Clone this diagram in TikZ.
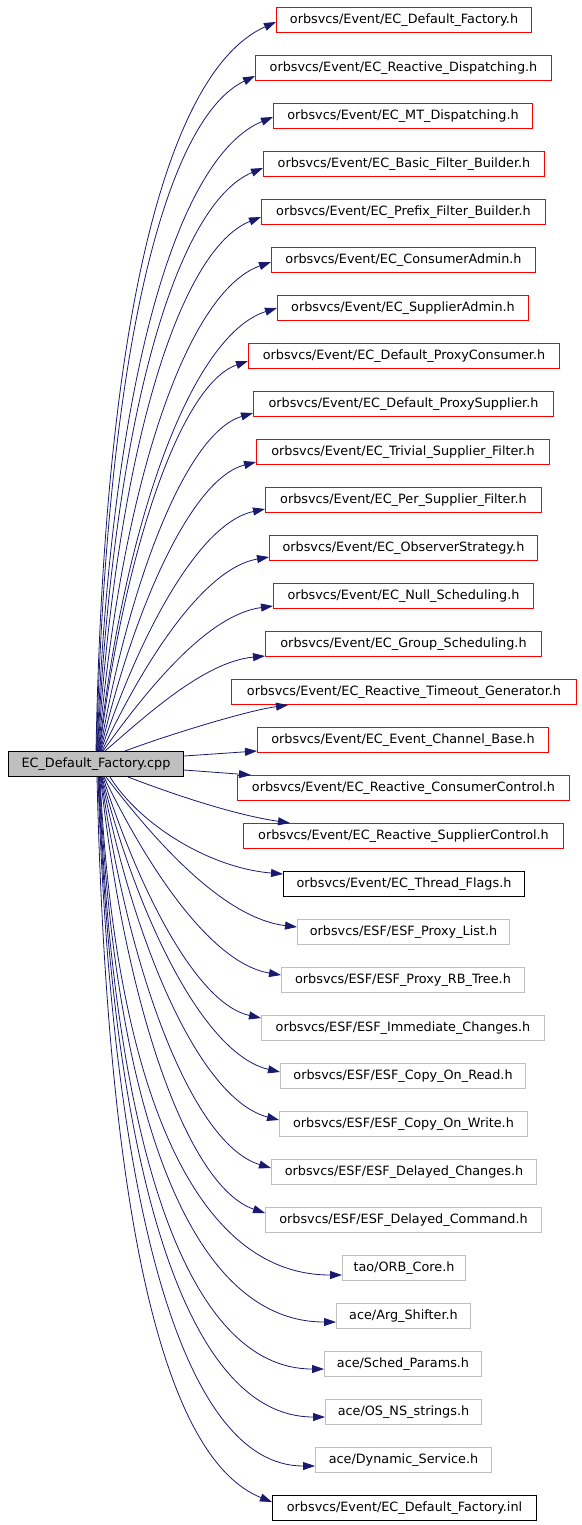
\documentclass[tikz,border=0pt]{standalone}
\usepackage{fontspec}
\setmainfont{DejaVu Sans}
\usetikzlibrary{arrows.meta,calc}
\definecolor{edgeblue}{RGB}{25,25,112}
\definecolor{boxred}{RGB}{255,0,0}
\definecolor{boxgray}{RGB}{191,191,191}
\tikzset{
  hbox/.style={draw, line width=1pt, inner sep=0pt, minimum height=25pt, anchor=west,
    font=\fontsize{12.8pt}{14pt}\selectfont, text=black},
  redbox/.style={hbox, draw=boxred},
  graybox/.style={hbox, draw=boxgray},
  blackbox/.style={hbox, draw=black},
  srcbox/.style={hbox, draw=black, fill=boxgray},
  edge/.style={draw=edgeblue, line width=0.8pt, -{Triangle[length=12pt,width=8pt]}}
}
% #1 anchor of src, #2 x offset from that anchor, #3 target, #4 end shift (down positive)
\newcommand\fan[4]{%
  \draw[edge] let \p1=($(src.#1)+(#2,0)$), \p2=($(#3.west)+(0,#4)$) in
   (\p1) .. controls ({\x1+(0.3-0.25*abs(\y2-\y1)/730)*(\x2-\x1)}, {\y1+(0.35+0.3*abs(\y2-\y1)/730)*(\y2-\y1)})
   and ({\x2-(0.35+0.2*abs(\y2-\y1)/730)*(\x2-\x1)}, {\y2-0.06*(\y2-\y1)}) .. (\p2);}
% lower group with a later bend; #5 vertical fraction of the arrival
\newcommand\fanb[5]{%
  \draw[edge] let \p1=($(src.#1)+(#2,0)$), \p2=($(#3.west)+(0,#4)$) in
   (\p1) .. controls ({\x1+0.06*(\x2-\x1)}, {\y1+0.61*(\y2-\y1)})
   and ({\x2-0.62*(\x2-\x1)}, {\y2-#5*(\y2-\y1)}) .. (\p2);}
\begin{document}
\begin{tikzpicture}[x=1pt,y=-1pt]
\fill[white] (0,0) rectangle (581,1525);
\useasboundingbox (0,0) rectangle (581,1525);
\node[srcbox, minimum width=175pt] (src) at (8,764) {EC\_Default\_Factory.cpp};
\node[redbox, minimum width=255pt] (d1) at (276,20) {orbsvcs/Event/EC\_Default\_Factory.h};
\node[redbox, minimum width=296pt] (d2) at (255,68) {orbsvcs/Event/EC\_Reactive\_Dispatching.h};
\node[redbox, minimum width=259pt] (d3) at (273,116) {orbsvcs/Event/EC\_MT\_Dispatching.h};
\node[redbox, minimum width=281pt] (d4) at (263,164) {orbsvcs/Event/EC\_Basic\_Filter\_Builder.h};
\node[redbox, minimum width=284pt] (d5) at (261,212) {orbsvcs/Event/EC\_Prefix\_Filter\_Builder.h};
\node[redbox, minimum width=264pt] (d6) at (271,260) {orbsvcs/Event/EC\_ConsumerAdmin.h};
\node[redbox, minimum width=251pt] (d7) at (277,308) {orbsvcs/Event/EC\_SupplierAdmin.h};
\node[redbox, minimum width=311pt] (d8) at (248,356) {orbsvcs/Event/EC\_Default\_ProxyConsumer.h};
\node[redbox, minimum width=300pt] (d9) at (253,404) {orbsvcs/Event/EC\_Default\_ProxySupplier.h};
\node[redbox, minimum width=293pt] (d10) at (256,452) {orbsvcs/Event/EC\_Trivial\_Supplier\_Filter.h};
\node[redbox, minimum width=276pt] (d11) at (265,500) {orbsvcs/Event/EC\_Per\_Supplier\_Filter.h};
\node[redbox, minimum width=268pt] (d12) at (269,548) {orbsvcs/Event/EC\_ObserverStrategy.h};
\node[redbox, minimum width=260pt] (d13) at (273,596) {orbsvcs/Event/EC\_Null\_Scheduling.h};
\node[redbox, minimum width=276pt] (d14) at (265,644) {orbsvcs/Event/EC\_Group\_Scheduling.h};
\node[redbox, minimum width=345pt] (d15) at (231,692) {orbsvcs/Event/EC\_Reactive\_Timeout\_Generator.h};
\node[redbox, minimum width=291pt] (d16) at (257,740) {orbsvcs/Event/EC\_Event\_Channel\_Base.h};
\node[redbox, minimum width=332pt] (d17) at (237,788) {orbsvcs/Event/EC\_Reactive\_ConsumerControl.h};
\node[redbox, minimum width=320pt] (d18) at (243,836) {orbsvcs/Event/EC\_Reactive\_SupplierControl.h};
\node[blackbox, minimum width=241pt] (d19) at (283,884) {orbsvcs/Event/EC\_Thread\_Flags.h};
\node[graybox, minimum width=212pt] (d20) at (297,932) {orbsvcs/ESF/ESF\_Proxy\_List.h};
\node[graybox, minimum width=243pt] (d21) at (281,980) {orbsvcs/ESF/ESF\_Proxy\_RB\_Tree.h};
\node[graybox, minimum width=283pt] (d22) at (261,1028) {orbsvcs/ESF/ESF\_Immediate\_Changes.h};
\node[graybox, minimum width=245pt] (d23) at (280,1076) {orbsvcs/ESF/ESF\_Copy\_On\_Read.h};
\node[graybox, minimum width=248pt] (d24) at (279,1124) {orbsvcs/ESF/ESF\_Copy\_On\_Write.h};
\node[graybox, minimum width=265pt] (d25) at (271,1172) {orbsvcs/ESF/ESF\_Delayed\_Changes.h};
\node[graybox, minimum width=276pt] (d26) at (265,1220) {orbsvcs/ESF/ESF\_Delayed\_Command.h};
\node[graybox, minimum width=123pt] (d27) at (342,1268) {tao/ORB\_Core.h};
\node[graybox, minimum width=134pt] (d28) at (336,1316) {ace/Arg\_Shifter.h};
\node[graybox, minimum width=157pt] (d29) at (324,1364) {ace/Sched\_Params.h};
\node[graybox, minimum width=156pt] (d30) at (325,1412) {ace/OS\_NS\_strings.h};
\node[graybox, minimum width=176pt] (d31) at (315,1460) {ace/Dynamic\_Service.h};
\node[blackbox, minimum width=264pt] (d32) at (272,1508) {orbsvcs/Event/EC\_Default\_Factory.inl};
% upper fan
\fan{north west}{88}{d1}{2}
\fan{north west}{88.5}{d2}{8}
\fan{north west}{89}{d3}{1}
\fan{north west}{89.5}{d4}{4}
\fan{north west}{90}{d5}{5}
\fan{north west}{90.5}{d6}{2}
\fan{north west}{91}{d7}{0}
\fan{north west}{91.5}{d8}{5}
\fan{north west}{92}{d9}{9}
\fan{north west}{92.5}{d10}{10}
\fan{north west}{93}{d11}{9}
\fan{north west}{94}{d12}{9}
\fan{north west}{95}{d13}{10}
\fan{north west}{97}{d14}{12}
% middle
\draw[edge] ($(src.north west)+(117,0)$) .. controls (165,736) and (245,711) .. ($(d15.south west)+(57,0)$);
\draw[edge] ($(src.east)+(0,-8)$) -- ($(d16.west)+(0,11)$);
\draw[edge] ($(src.east)+(0,6)$) -- ($(d17.north west)+(14,0)$);
\draw[edge] ($(src.south west)+(120,0)$) .. controls (175,795) and (235,815) .. ($(d18.north west)+(47,0)$);
\draw[edge] ($(src.south west)+(102,0)$) .. controls (140,825) and (210,868) .. ($(d19.west)+(0,-10)$);
% lower fan
\fan{south west}{98}{d20}{-5}
\fan{south west}{96}{d21}{-5}
\fan{south west}{95}{d22}{-10}
\fan{south west}{94}{d23}{-4}
\fan{south west}{93.5}{d24}{-4}
\fan{south west}{93}{d25}{-4}
\fan{south west}{92.5}{d26}{-7}
\fanb{south west}{92}{d27}{7}{0}
\fanb{south west}{91.5}{d28}{6}{0}
\fanb{south west}{91}{d29}{5}{0}
\fanb{south west}{90.5}{d30}{5}{0}
\fanb{south west}{90}{d31}{6}{0}
\fanb{south west}{89}{d32}{-6}{0.06}
\end{tikzpicture}
\end{document}
